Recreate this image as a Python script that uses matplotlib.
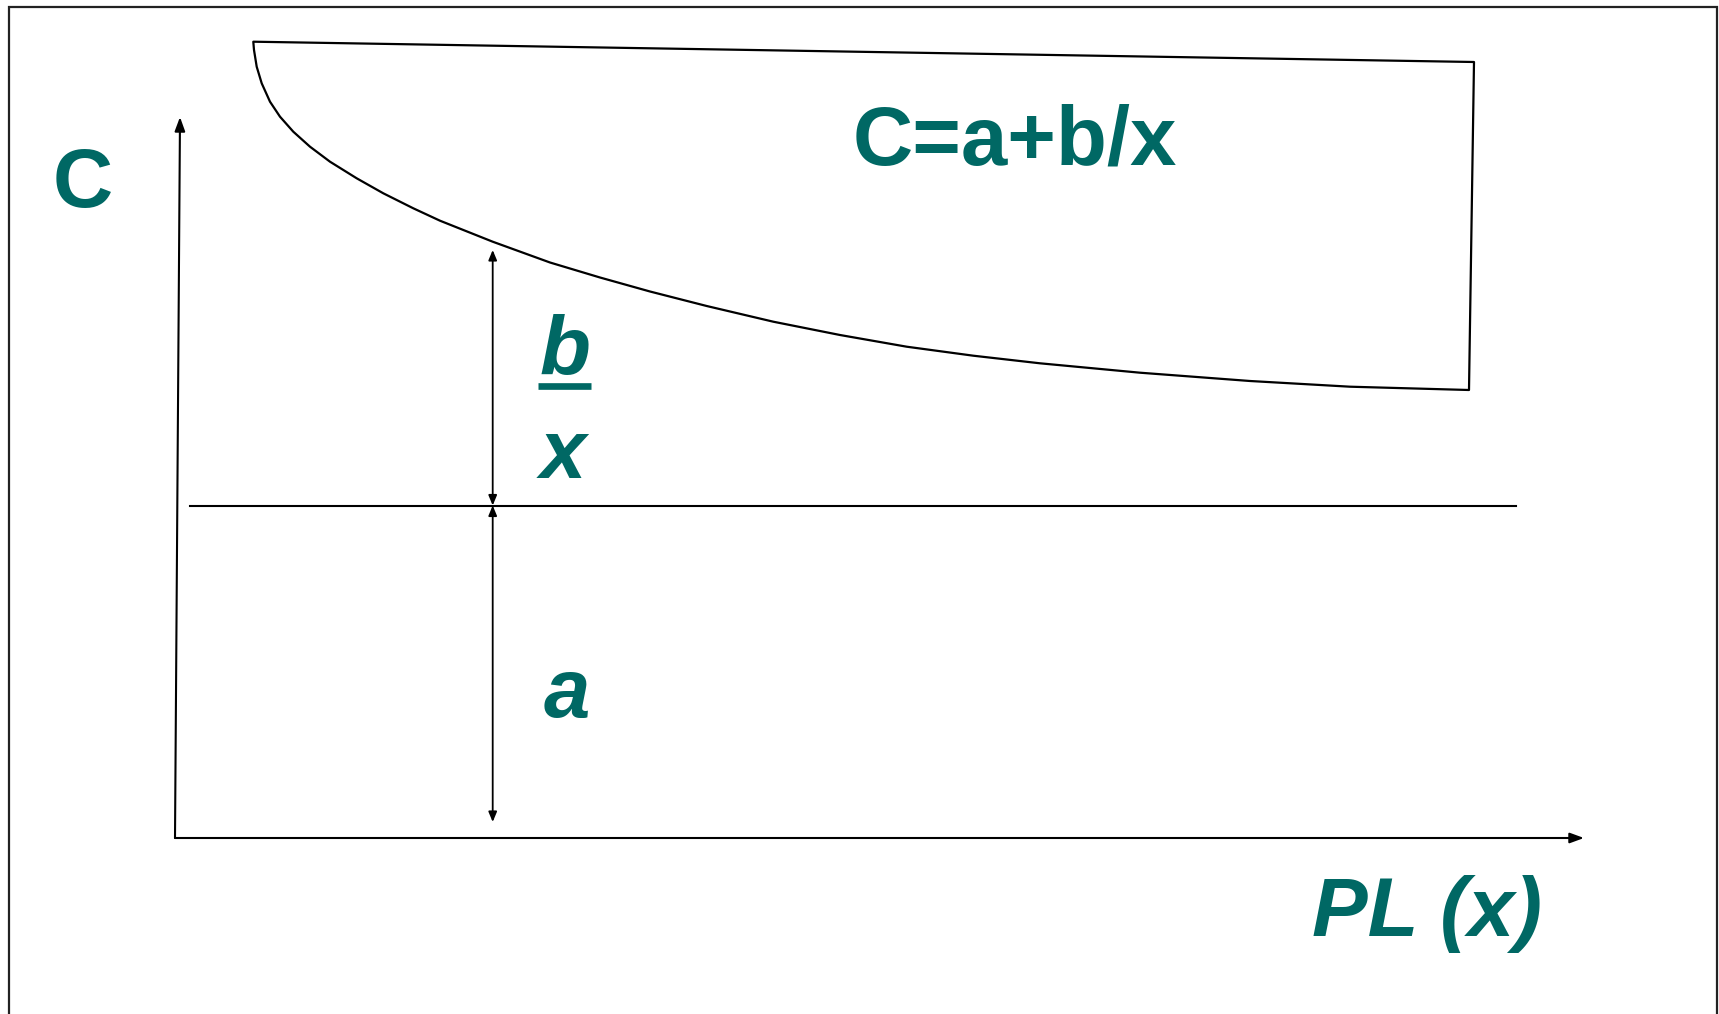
import matplotlib
matplotlib.use("Agg")
import matplotlib.pyplot as plt
from matplotlib.patches import Polygon, Rectangle
import numpy as np

# schematic values, units measured from the origin of the drawn axes
x_axis_end = 1409
y_axis_top = (5, 721)
a_level = 332.5
a_line_x = [15, 1341]
dim_x = 317.7
dim_top = 588
dim_bottom = 16

# lower edge of the "blade" = the C curve
curve_x = [78.3, 79, 81.7, 86.7, 95, 105, 118.3, 135, 155, 181.7, 208.3, 238.3,
           265, 317.7, 375, 425, 475, 531.7, 598.3, 665, 731.7, 798.3, 865, 965,
           1075, 1175, 1294]
curve_c = [796.3, 788, 771.3, 754.7, 736.3, 721.3, 706.3, 691.3, 676.3, 659.7,
           644.7, 629.7, 617.3, 596.3, 575.5, 560.5, 546.5, 532, 516.3, 503,
           491.3, 482.3, 474.7, 465.3, 457, 451.3, 448]
top_x = [78.3, 1299]
top_c = [796.3, 776]

teal = "#006864"
fnt = "Liberation Sans"

fig = plt.figure(figsize=(17.19, 10.14), dpi=100)
ax = fig.add_axes([0, 0, 1, 1])
ax.set_xlim(-175, 1544)
ax.set_ylim(-176, 838)
ax.axis("off")

# outer frame
fig.patches.append(Rectangle((9 / 1719, -0.05), 1708 / 1719, 1.05 - 7 / 1014,
                             transform=fig.transFigure, fill=False,
                             lw=1.6, ec="#222222"))

# axes with arrows
ax.annotate("", xy=y_axis_top, xytext=(0, 0),
            arrowprops=dict(arrowstyle="-|>,head_length=0.6,head_width=0.22",
                            mutation_scale=14, lw=1.5, color="black",
                            shrinkA=0, shrinkB=0))
ax.annotate("", xy=(x_axis_end, 0), xytext=(0, 0),
            arrowprops=dict(arrowstyle="-|>,head_length=0.6,head_width=0.22",
                            mutation_scale=14, lw=1.5, color="black",
                            shrinkA=0, shrinkB=0))

# level a
ax.plot(a_line_x, [a_level, a_level], color="black", lw=1.5)

# blade outline
bx = top_x + [curve_x[-1]] + curve_x[::-1]
bc = top_c + [curve_c[-1]] + curve_c[::-1]
ax.add_patch(Polygon(np.column_stack([bx, bc]), closed=True, fill=False,
                     ec="black", lw=1.6, joinstyle="round"))

# dimension arrows
for lo, hi in [(a_level, dim_top), (dim_bottom, a_level)]:
    ax.annotate("", xy=(dim_x, hi), xytext=(dim_x, lo),
                arrowprops=dict(arrowstyle="<|-|>,head_length=0.6,head_width=0.25",
                                mutation_scale=10, lw=1.3, color="black",
                                shrinkA=0, shrinkB=0))

# labels
ax.text(-92, 631, "C", color=teal, fontsize=60, fontweight="bold",
        family=fnt, ha="center", va="baseline")
ax.text(840, 674, "C=a+b/x", color=teal, fontsize=60, fontweight="bold",
        family=fnt, ha="center", va="baseline")
ax.text(1252, -98, "PL (x)", color=teal, fontsize=60, fontweight="bold",
        style="italic", family=fnt, ha="center", va="baseline")
ax.text(390, 463, "b", color=teal, fontsize=60, fontweight="bold",
        style="italic", family=fnt, ha="center", va="baseline")
ax.plot([363, 416], [452, 452], color=teal, lw=4.8, solid_capstyle="butt")
ax.text(388, 360, "x", color=teal, fontsize=60, fontweight="bold",
        style="italic", family=fnt, ha="center", va="baseline")
ax.text(392, 121, "a", color=teal, fontsize=60, fontweight="bold",
        style="italic", family=fnt, ha="center", va="baseline")

fig.savefig("out.png", dpi=100)
